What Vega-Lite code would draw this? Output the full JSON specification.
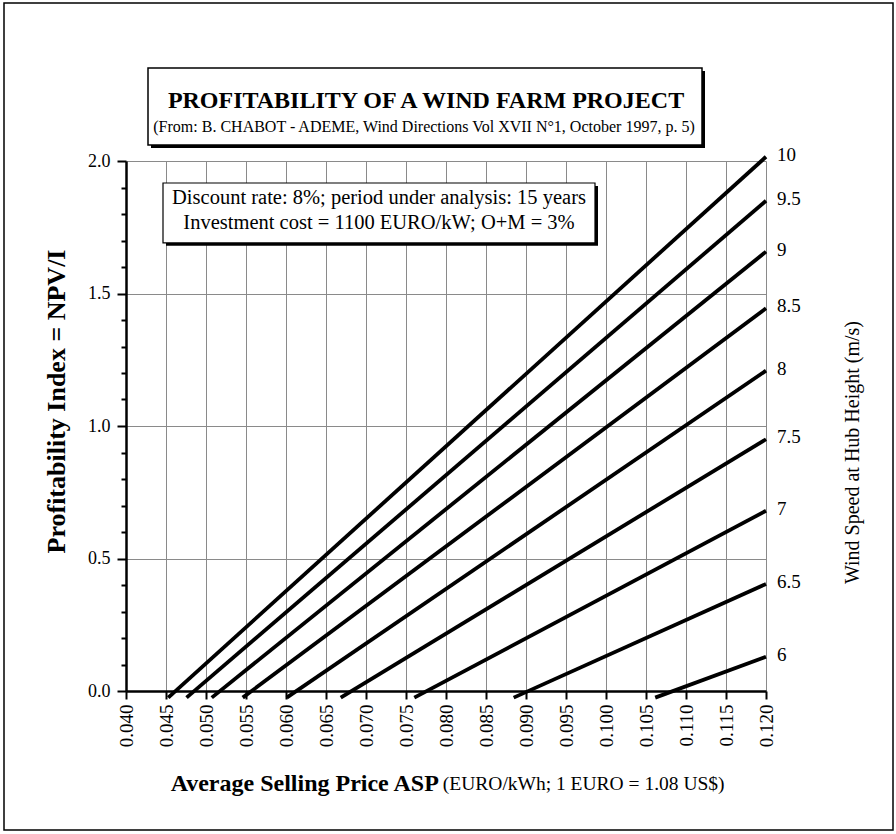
{
  "$schema": "https://vega.github.io/schema/vega-lite/v6.json",
  "width": 640,
  "height": 530,
  "autosize": "none",
  "padding": {"left": 126, "top": 161, "right": 130, "bottom": 143},
  "background": "white",
  "config": {"view": {"stroke": null}, "font": "Liberation Serif"},
  "datasets": {
    "curves": [
      {"speed": "10", "price": 0.04528, "pi": -0.025},
      {"speed": "10", "price": 0.120, "pi": 2.016},
      {"speed": "9.5", "price": 0.04757, "pi": -0.025},
      {"speed": "9.5", "price": 0.120, "pi": 1.850},
      {"speed": "9", "price": 0.05072, "pi": -0.025},
      {"speed": "9", "price": 0.120, "pi": 1.658},
      {"speed": "8.5", "price": 0.05459, "pi": -0.025},
      {"speed": "8.5", "price": 0.120, "pi": 1.444},
      {"speed": "8", "price": 0.06009, "pi": -0.025},
      {"speed": "8", "price": 0.120, "pi": 1.209},
      {"speed": "7.5", "price": 0.06684, "pi": -0.025},
      {"speed": "7.5", "price": 0.120, "pi": 0.950},
      {"speed": "7", "price": 0.07604, "pi": -0.025},
      {"speed": "7", "price": 0.120, "pi": 0.680},
      {"speed": "6.5", "price": 0.08846, "pi": -0.025},
      {"speed": "6.5", "price": 0.120, "pi": 0.404},
      {"speed": "6", "price": 0.10615, "pi": -0.025},
      {"speed": "6", "price": 0.120, "pi": 0.129}
    ]
  },
  "layer": [
    {
      "data": {"values": [{"x1": 0.02475, "x2": 0.135875, "y1": 2.596, "y2": -0.5245}]},
      "mark": {"type": "rect", "fill": null, "stroke": "black", "strokeWidth": 1.5},
      "encoding": {
        "x": {"field": "x1", "type": "quantitative", "axis": null},
        "x2": {"field": "x2"},
        "y": {"field": "y1", "type": "quantitative", "axis": null},
        "y2": {"field": "y2"}
      }
    },
    {
      "data": {"values": [{"x1": 0.043125, "x2": 0.112375, "y1": 2.340, "y2": 2.049}]},
      "mark": {"type": "rect", "fill": "black"},
      "encoding": {
        "x": {"field": "x1", "type": "quantitative", "axis": null},
        "x2": {"field": "x2"},
        "y": {"field": "y1", "type": "quantitative", "axis": null},
        "y2": {"field": "y2"}
      }
    },
    {
      "data": {"values": [{"x1": 0.04275, "x2": 0.112, "y1": 2.351, "y2": 2.060}]},
      "mark": {"type": "rect", "fill": "white", "stroke": "black", "strokeWidth": 1.5},
      "encoding": {
        "x": {"field": "x1", "type": "quantitative", "axis": null},
        "x2": {"field": "x2"},
        "y": {"field": "y1", "type": "quantitative", "axis": null},
        "y2": {"field": "y2"}
      }
    },
    {
      "data": {"values": [{"x": 0.0775, "y": 2.226, "t": "PROFITABILITY OF A WIND FARM PROJECT"}]},
      "mark": {"type": "text", "font": "Liberation Serif", "fontSize": 24, "fontWeight": "bold", "align": "center", "baseline": "middle", "color": "black"},
      "encoding": {
        "x": {"field": "x", "type": "quantitative", "axis": null},
        "y": {"field": "y", "type": "quantitative", "axis": null},
        "text": {"field": "t"}
      }
    },
    {
      "data": {"values": [{"x": 0.07725, "y": 2.128, "t": "(From: B. CHABOT - ADEME, Wind Directions Vol XVII N°1, October 1997, p. 5)"}]},
      "mark": {"type": "text", "font": "Liberation Serif", "fontSize": 16, "align": "center", "baseline": "middle", "color": "black"},
      "encoding": {
        "x": {"field": "x", "type": "quantitative", "axis": null},
        "y": {"field": "y", "type": "quantitative", "axis": null},
        "text": {"field": "t"}
      }
    },
    {
      "data": {"name": "curves"},
      "mark": {"type": "line", "color": "black", "strokeWidth": 3.8},
      "encoding": {
        "x": {
          "field": "price", "type": "quantitative",
          "scale": {"domain": [0.04, 0.12], "nice": false, "zero": false},
          "axis": {
            "values": [0.04, 0.045, 0.05, 0.055, 0.06, 0.065, 0.07, 0.075, 0.08, 0.085, 0.09, 0.095, 0.1, 0.105, 0.11, 0.115, 0.12],
            "format": ".3f", "labelAngle": 270, "labelFont": "Liberation Serif", "labelFontSize": 19, "labelColor": "black",
            "labelPadding": 5, "tickSize": 8, "tickWidth": 2, "tickColor": "black",
            "domainColor": "black", "domainWidth": 2.5, "grid": true, "gridColor": "#8a8a8a", "gridWidth": 1,
            "title": null, "labelFlush": false, "labelOverlap": false
          }
        },
        "y": {
          "field": "pi", "type": "quantitative",
          "scale": {"domain": [0, 2], "nice": false, "zero": false},
          "axis": {
            "values": [0, 0.1, 0.2, 0.3, 0.4, 0.5, 0.6, 0.7, 0.8, 0.9, 1, 1.1, 1.2, 1.3, 1.4, 1.5, 1.6, 1.7, 1.8, 1.9, 2],
            "labelExpr": "abs(datum.value * 2 - round(datum.value * 2)) < 0.000001 ? format(datum.value, '.1f') : ''",
            "labelFont": "Liberation Serif", "labelFontSize": 18, "labelColor": "black", "labelPadding": 7,
            "tickSize": {"condition": {"test": "abs(datum.value * 2 - round(datum.value * 2)) < 0.000001", "value": 9}, "value": 5},
            "tickWidth": 2, "tickColor": "black", "domainColor": "black", "domainWidth": 2.5,
            "grid": true, "gridColor": "#8a8a8a", "gridWidth": 1,
            "gridOpacity": {"condition": {"test": "abs(datum.value * 2 - round(datum.value * 2)) < 0.000001", "value": 1}, "value": 0},
            "title": "Profitability Index = NPV/I", "titleFont": "Liberation Serif", "titleFontSize": 26, "titleFontWeight": "bold",
            "titleColor": "black", "titleAngle": 270, "titleX": -70, "titleY": 240, "titleAlign": "center", "titleBaseline": "middle",
            "labelFlush": false, "labelOverlap": false
          }
        },
        "detail": {"field": "speed"}
      }
    },
    {
      "data": {"values": [{"x1": 0.045, "x2": 0.099, "y1": 1.906, "y2": 1.680}]},
      "mark": {"type": "rect", "fill": "black"},
      "encoding": {
        "x": {"field": "x1", "type": "quantitative", "axis": null},
        "x2": {"field": "x2"},
        "y": {"field": "y1", "type": "quantitative", "axis": null},
        "y2": {"field": "y2"}
      }
    },
    {
      "data": {"values": [{"x1": 0.044625, "x2": 0.098625, "y1": 1.917, "y2": 1.691}]},
      "mark": {"type": "rect", "fill": "white", "stroke": "black", "strokeWidth": 1.2},
      "encoding": {
        "x": {"field": "x1", "type": "quantitative", "axis": null},
        "x2": {"field": "x2"},
        "y": {"field": "y1", "type": "quantitative", "axis": null},
        "y2": {"field": "y2"}
      }
    },
    {
      "data": {"values": [
        {"x": 0.071625, "y": 1.862, "t": "Discount rate: 8%; period under analysis: 15 years"},
        {"x": 0.071625, "y": 1.766, "t": "Investment cost = 1100 EURO/kW; O+M = 3%"}
      ]},
      "mark": {"type": "text", "font": "Liberation Serif", "fontSize": 20.5, "align": "center", "baseline": "middle", "color": "black"},
      "encoding": {
        "x": {"field": "x", "type": "quantitative", "axis": null},
        "y": {"field": "y", "type": "quantitative", "axis": null},
        "text": {"field": "t"}
      }
    },
    {
      "data": {"name": "curves"},
      "transform": [{"filter": "datum.price === 0.12"}],
      "mark": {"type": "text", "font": "Liberation Serif", "fontSize": 19, "align": "left", "baseline": "middle", "dx": 11, "dy": -2, "color": "black"},
      "encoding": {
        "x": {"field": "price", "type": "quantitative", "axis": null},
        "y": {
          "field": "pi", "type": "quantitative",
          "axis": {
            "orient": "right", "labels": false, "ticks": false, "domain": false, "grid": false,
            "title": "Wind Speed at Hub Height (m/s)", "titleFont": "Liberation Serif", "titleFontSize": 20,
            "titleFontWeight": "normal", "titleColor": "black", "titleAngle": 270,
            "titleX": 86, "titleY": 291, "titleAlign": "center", "titleBaseline": "middle"
          }
        },
        "text": {"field": "speed"}
      }
    },
    {
      "data": {"values": [{"x": 0.0791, "y": -0.351, "t": "Average Selling Price ASP"}]},
      "mark": {"type": "text", "font": "Liberation Serif", "fontSize": 24, "fontWeight": "bold", "align": "right", "baseline": "middle", "color": "black"},
      "encoding": {
        "x": {"field": "x", "type": "quantitative", "axis": null},
        "y": {"field": "y", "type": "quantitative", "axis": null},
        "text": {"field": "t"}
      }
    },
    {
      "data": {"values": [{"x": 0.0796, "y": -0.351, "t": "(EURO/kWh; 1 EURO = 1.08 US$)"}]},
      "mark": {"type": "text", "font": "Liberation Serif", "fontSize": 19.5, "align": "left", "baseline": "middle", "color": "black"},
      "encoding": {
        "x": {"field": "x", "type": "quantitative", "axis": null},
        "y": {"field": "y", "type": "quantitative", "axis": null},
        "text": {"field": "t"}
      }
    }
  ],
  "resolve": {"axis": {"x": "independent", "y": "independent"}}
}
